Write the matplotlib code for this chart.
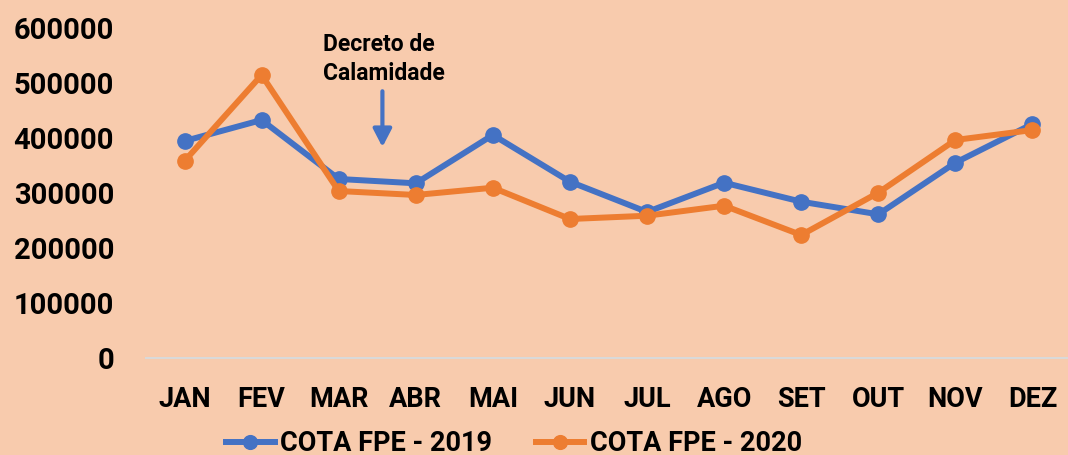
import matplotlib
matplotlib.use("Agg")
import matplotlib.pyplot as plt

months = ["JAN", "FEV", "MAR", "ABR", "MAI", "JUN", "JUL", "AGO", "SET", "OUT", "NOV", "DEZ"]
cota_2019 = [394500, 432700, 325500, 317600, 405500, 320500, 265500, 318700, 284200, 261200, 355100, 425500]
cota_2020 = [358200, 514500, 303600, 296400, 309600, 252700, 258700, 276900, 223600, 300500, 396400, 414500]
yticks = [0, 100000, 200000, 300000, 400000, 500000, 600000]
label_2019 = "COTA FPE - 2019"
label_2020 = "COTA FPE - 2020"
annotation_text = "Decreto de\nCalamidade"

BG = "#F8CBAD"
BLUE = "#4472C4"
ORANGE = "#ED7D31"

plt.rcParams['font.family'] = ['Roboto', 'DejaVu Sans']

fig = plt.figure(figsize=(10.68, 4.55), dpi=100)
fig.patch.set_facecolor(BG)
ax = fig.add_axes([146/1068, 97/455, (1071-146)/1068, (358-28)/455])
ax.set_facecolor(BG)

x = list(range(len(months)))
ax.plot(x, cota_2019, color=BLUE, lw=4.3, marker='o', ms=11, label=label_2019, zorder=3)
ax.plot(x, cota_2020, color=ORANGE, lw=4.3, marker='o', ms=11, label=label_2020, zorder=4)

ax.set_xlim(-0.5, 11.5)
ax.set_ylim(0, 600000)
ax.set_yticks(yticks)
ax.set_yticklabels([str(v) for v in yticks], fontsize=21, fontweight='bold')
ax.set_xticks(x)
ax.set_xticklabels(months, fontsize=19.5, fontweight='bold')
ax.tick_params(axis='both', length=0)
ax.tick_params(axis='y', pad=23)
ax.tick_params(axis='x', pad=20)
for s in ['top', 'right', 'left']:
    ax.spines[s].set_visible(False)
ax.spines['bottom'].set_color('#D9D9D9')
ax.spines['bottom'].set_linewidth(1.5)
ax.spines['bottom'].set_zorder(1)

ax.annotate("", xy=(2.567, 383600), xytext=(2.567, 485000),
            arrowprops=dict(arrowstyle="-|>,head_width=0.28,head_length=0.54", color=BLUE, lw=3,
                            shrinkA=0, shrinkB=0, mutation_scale=20))
ax.text(1.80, 543600, annotation_text, fontsize=16.5, fontweight='bold', ha='left', va='center',
        linespacing=1.3)

fig.legend(loc='center', bbox_to_anchor=(514/1068, 1 - 443.5/455), ncol=2, frameon=False,
           prop={'weight': 'bold', 'size': 19.5}, handlelength=1.8, handletextpad=0.2,
           columnspacing=1.6, markerscale=0.9)

fig.savefig("out.png", dpi=100, facecolor=BG)
